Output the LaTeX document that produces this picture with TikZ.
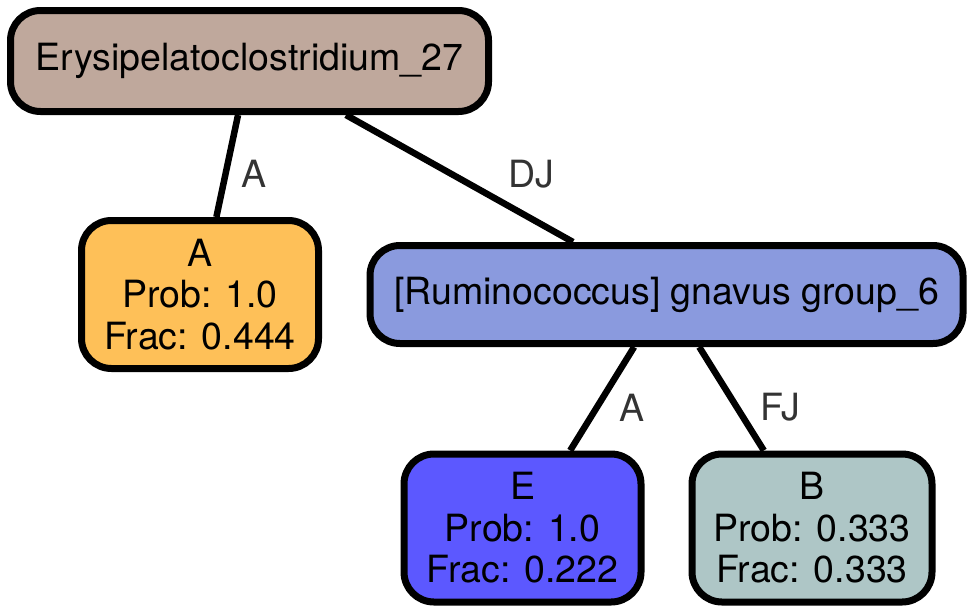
\documentclass[tikz,border=0pt]{standalone}
\usepackage{fontspec}
\setmainfont{TeX Gyre Heros}
\definecolor{rootfill}{HTML}{BFA89C}
\definecolor{leafAfill}{HTML}{FEC058}
\definecolor{rumfill}{HTML}{8A9ADE}
\definecolor{leafEfill}{HTML}{5C58FF}
\definecolor{leafBfill}{HTML}{AEC6C6}
\definecolor{labelgray}{HTML}{333333}
\begin{document}
\begin{tikzpicture}[x=1pt,y=-1pt,every node/.style={font=\fontsize{37.5}{41.5}\selectfont},
  taxon/.style={draw,line width=7pt,rounded corners=30pt,inner sep=0pt,align=center},
  leaf/.style={taxon,minimum width=237pt,minimum height=148pt},
  edge/.style={line width=6.5pt},
  elabel/.style={anchor=base,text=labelgray}]
\useasboundingbox (0,0) rectangle (976,613);
% taxa
\node[taxon,fill=rootfill,minimum width=478pt,minimum height=101pt] (root) at (249.5,61) {Erysipelatoclostridium\_27};
\node[leaf,fill=leafAfill] (A) at (200,294.5) {A\\Prob: 1.0\\Frac: 0.444};
\node[taxon,fill=rumfill,minimum width=593pt,minimum height=98pt] (rum) at (666.5,294.5) {[Ruminococcus] gnavus group\_6};
\node[leaf,fill=leafEfill] (E) at (522.5,528) {E\\Prob: 1.0\\Frac: 0.222};
\node[leaf,fill=leafBfill,minimum width=240pt] (B) at (812,528) {B\\Prob: 0.333\\Frac: 0.333};
% edges and their labels
\draw[edge] (root) -- (A);
\draw[edge] (root) -- (rum);
\draw[edge] (rum) -- (E);
\draw[edge] (rum) -- (B);
\node[elabel] (lA) at (254.5,187) {A};
\node[elabel] (lDJ) at (531,187) {DJ};
\node[elabel] (lEA) at (632,421) {A};
\node[elabel] (lFJ) at (780,420) {FJ};
\end{tikzpicture}
\end{document}
